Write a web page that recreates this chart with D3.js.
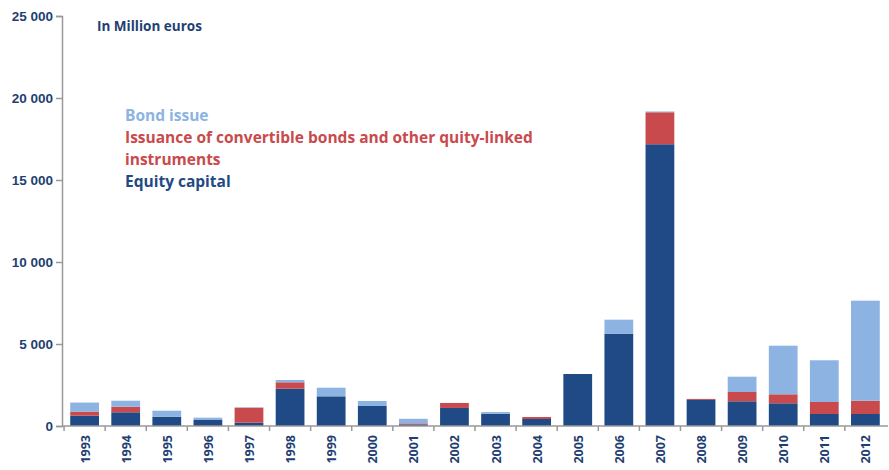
<!DOCTYPE html>
<html>
<head>
<meta charset="utf-8">
<script src="https://cdn.jsdelivr.net/npm/d3@7"></script>
<style>
  body { margin: 0; background: #fff; }
  svg { display: block; font-family: "Open Sans", Lato, sans-serif; }
</style>
</head>
<body>
<svg id="chart" width="889" height="470"></svg>
<script>
// data, in million euros
const years = ["1993","1994","1995","1996","1997","1998","1999","2000","2001","2002",
               "2003","2004","2005","2006","2007","2008","2009","2010","2011","2012"];
const equity      = [630, 835, 567, 366, 200, 2275, 1810, 1220, 100, 1100, 750, 427, 3170, 5630, 17180, 1590, 1506, 1384, 732, 732];
const convertible = [250, 340, 0, 0, 915, 390, 0, 0, 60, 305, 0, 120, 0, 0, 1950, 60, 567, 549, 732, 811];
const bonds       = [550, 366, 366, 140, 30, 140, 525, 305, 280, 0, 100, 0, 0, 853, 50, 0, 933, 2963, 2543, 6098];
const yTicks = [0, 5000, 10000, 15000, 20000, 25000];

const seriesKeys = ["equity", "convertible", "bonds"];
const colors = { equity: "#1f4a86", convertible: "#c94a4c", bonds: "#8db3e2" };
const legendItems = [
  { lines: ["Bond issue"], color: "#8db3e2" },
  { lines: ["Issuance of convertible bonds and other quity-linked", "instruments"], color: "#c94a4c" },
  { lines: ["Equity capital"], color: "#1f4a86" }
];
const textColor = "#1f3f73";

const rows = years.map((y, i) => ({ year: y, equity: equity[i], convertible: convertible[i], bonds: bonds[i] }));
const stacked = d3.stack().keys(seriesKeys)(rows);

const svg = d3.select("#chart");
const margin = { top: 16, left: 62 };
const innerHeight = 426 - margin.top;
const innerWidth = 826;

const g = svg.append("g").attr("transform", `translate(${margin.left},${margin.top})`);

const x = d3.scaleBand().domain(years).range([0, innerWidth]).paddingInner(0.3).paddingOuter(0.2);
const y = d3.scaleLinear().domain([0, 25000]).range([innerHeight, 0]);

const fmt = d3.formatLocale({ decimal: ".", thousands: " ", grouping: [3], currency: ["", ""] }).format(",");

// bars
g.selectAll(".series")
  .data(stacked)
  .enter().append("g")
    .attr("class", "series")
    .attr("fill", d => colors[d.key])
  .selectAll("rect")
  .data(d => d)
  .enter().append("rect")
    .attr("x", d => x(d.data.year))
    .attr("y", d => y(d[1]))
    .attr("width", x.bandwidth())
    .attr("height", d => y(d[0]) - y(d[1]));

// y axis
const yAxis = d3.axisLeft(y).tickValues(yTicks).tickFormat(fmt).tickSize(6).tickPadding(3);
const yAxisG = g.append("g").attr("class", "y-axis").call(yAxis);
yAxisG.select(".domain").attr("stroke", "#999").attr("stroke-width", 1.5);
yAxisG.selectAll(".tick line").attr("stroke", "#999").attr("stroke-width", 1.5);
yAxisG.selectAll("text")
  .attr("fill", textColor)
  .style("font-size", "13.5px")
  .style("font-weight", "bold");

// x axis: ticks sit between the bars
const xAxisG = g.append("g").attr("class", "x-axis").attr("transform", `translate(0,${innerHeight})`);
xAxisG.append("line")
  .attr("x1", 0).attr("x2", innerWidth)
  .attr("stroke", "#999").attr("stroke-width", 1.5);
const step = x.step();
xAxisG.selectAll(".sep")
  .data(years)
  .enter().append("line")
    .attr("class", "sep")
    .attr("x1", d => x(d) - step * 0.15).attr("x2", d => x(d) - step * 0.15)
    .attr("y1", 0).attr("y2", 5)
    .attr("stroke", "#999").attr("stroke-width", 1.5);
xAxisG.selectAll(".lbl")
  .data(years)
  .enter().append("text")
    .attr("class", "lbl")
    .attr("transform", d => `translate(${x(d) + x.bandwidth() / 2 + 5},9) rotate(-90)`)
    .attr("text-anchor", "end")
    .attr("fill", textColor)
    .style("font-size", "12.5px")
    .style("font-weight", "bold")
    .text(d => d);

// unit note
svg.append("text")
  .attr("x", 97).attr("y", 31)
  .attr("fill", textColor)
  .style("font-size", "13.5px")
  .style("font-weight", "bold")
  .text("In Million euros");

// legend
let lineY = 121;
legendItems.forEach(item => {
  item.lines.forEach(line => {
    svg.append("text")
      .attr("x", 125).attr("y", lineY)
      .attr("fill", item.color)
      .style("font-size", "15.5px")
      .style("font-weight", "bold")
      .text(line);
    lineY += 22;
  });
});
</script>
</body>
</html>
